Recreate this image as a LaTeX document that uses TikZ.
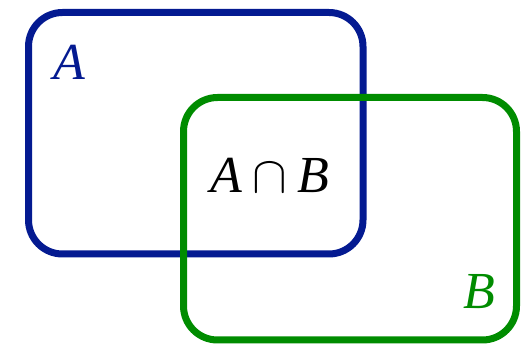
\documentclass[tikz,border=0pt]{standalone}
\usepackage{fix-cm}
\usepackage{fontspec}
\setmainfont{Liberation Serif}
\definecolor{setblue}{RGB}{4,26,145}
\definecolor{setgreen}{RGB}{0,140,0}
\tikzset{
  setbox/.style={line width=7pt, rounded corners=34pt},
  setlabel/.style={anchor=base, inner sep=0pt, font=\fontsize{52}{60}\selectfont}
}
\begin{document}
\begin{tikzpicture}[x=1pt,y=-1pt]
            \useasboundingbox (0,0) rectangle (528,344);
            % Set A
            \draw[setbox, setblue] (28.5,12.5) rectangle (363,254);
            % Set B
            \draw[setbox, setgreen] (183.5,97.5) rectangle (516.5,340);
            % Labels
            \node[setlabel, text=setblue] (labA) at (69.5,80) {\textit{A}};
            \node[setlabel, text=setgreen] (labB) at (479,309) {\textit{B}};
            \node[setlabel] (labAB) at (270,193) {\textit{A}\hspace{0.2em}$\cap$\hspace{0.2em}\textit{B}};
        \end{tikzpicture}
\end{document}
